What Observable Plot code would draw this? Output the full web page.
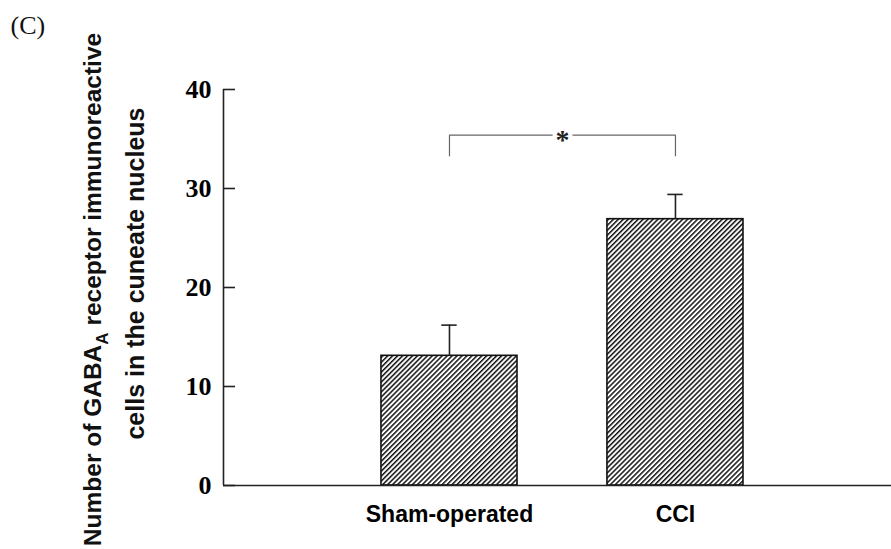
<!DOCTYPE html>
<html>
<head>
<meta charset="utf-8">
<script src="https://cdn.jsdelivr.net/npm/d3@7"></script>
<script src="https://cdn.jsdelivr.net/npm/@observablehq/plot@0.6"></script>
<style>
  html, body { margin: 0; padding: 0; background: #fff; }
  #chart svg { display: block; }
</style>
</head>
<body>
<div id="chart"></div>
<script>
// ---- data ----
const groups = ["Sham-operated", "CCI"];
const means = [13.1, 26.9];
const sems = [3.1, 2.5];
const yTicks = [0, 10, 20, 30, 40];
const bracketTop = 35.4;
const bracketBottom = 33.3;
const sigLabel = "*";
const panelLabel = "(C)";
const yLabelLine1 = "Number of GABA|A| receptor immunoreactive";
const yLabelLine2 = "cells in the cuneate nucleus";

const data = groups.map((g, i) => ({ g, i, mean: means[i], top: means[i] + sems[i] }));
const bracket = [
  { x: 0, y: bracketBottom },
  { x: 0, y: bracketTop },
  { x: 1, y: bracketTop },
  { x: 1, y: bracketBottom }
];
const xDomain = [-1, 1.956];
const half = 0.301;   // bar half width (x units)
const cap = 0.034;    // error cap half width

const sans = "'Liberation Sans', Arial, sans-serif";
const serif = "'Liberation Serif', 'Times New Roman', serif";

const chart = Plot.plot({
  width: 891,
  height: 549,
  marginLeft: 223,
  marginRight: 0,
  marginTop: 89,
  marginBottom: 64,
  style: { background: "#fff", color: "#000", overflow: "visible" },
  x: { domain: xDomain, axis: null },
  y: { domain: [0, 40], axis: null },
  marks: [
    Plot.rectY(data, {
      x1: d => d.i - half, x2: d => d.i + half, y1: 0, y2: "mean",
      fill: "url(#hatch)", stroke: "#111", strokeWidth: 1.6
    }),
    Plot.ruleX(data, { x: "i", y1: "mean", y2: "top", stroke: "#222", strokeWidth: 1.6 }),
    Plot.ruleY(data, { y: "top", x1: d => d.i - cap, x2: d => d.i + cap, stroke: "#222", strokeWidth: 1.6 }),
    Plot.line(bracket, { x: "x", y: "y", stroke: "#666", strokeWidth: 1.2 }),
    Plot.text([sigLabel], {
      x: [0.5], y: [bracketTop], text: d => d, fontSize: 28, fontFamily: serif, fontWeight: "bold",
      fill: "#222", stroke: "white", strokeWidth: 8, dy: 5
    }),
    Plot.ruleY([0], { stroke: "#222", strokeWidth: 1.6 }),
    Plot.ruleX([xDomain[0]], { y1: 0, y2: 40, stroke: "#222", strokeWidth: 1.6 }),
    Plot.tickY(yTicks, { y: d => d, insetRight: 668 - 12, stroke: "#222", strokeWidth: 1.6 }),
    Plot.axisY({
      ticks: yTicks, tickSize: 0, tickPadding: 12,
      fontSize: 26, fontFamily: serif, fontWeight: "bold",
      label: null, tickFormat: d => d
    }),
    Plot.axisX({
      ticks: [0, 1], tickSize: 0, tickPadding: 20, tickFormat: i => groups[i],
      fontSize: 23, fontFamily: sans, fontWeight: "bold", label: null
    }),
    Plot.text([yLabelLine1], {
      frameAnchor: "left", dx: -130, dy: 2, rotate: -90, text: d => d, textAnchor: "middle",
      fontSize: 24.5, fontFamily: sans, fontWeight: "bold", fill: "#111"
    }),
    Plot.text([yLabelLine2], {
      frameAnchor: "left", dx: -88, dy: -14, rotate: -90, text: d => d, textAnchor: "middle",
      fontSize: 25, fontFamily: sans, fontWeight: "bold", fill: "#111"
    }),
    Plot.text([panelLabel], {
      frameAnchor: "top-left", dx: -213, dy: -56, text: d => d, textAnchor: "start",
      lineAnchor: "bottom", fontSize: 26, fontFamily: serif, fill: "#111"
    })
  ]
});

// hatch pattern definition
const ns = "http://www.w3.org/2000/svg";
const defs = document.createElementNS(ns, "defs");
defs.innerHTML = `<pattern id="hatch" patternUnits="userSpaceOnUse" width="3.5" height="10" patternTransform="rotate(45)">
  <rect width="3.5" height="10" fill="white"/>
  <line x1="0.75" y1="0" x2="0.75" y2="10" stroke="#111" stroke-width="1.5"/>
</pattern>`;
chart.insertBefore(defs, chart.firstChild);

// subscript in the y label
chart.querySelectorAll("text").forEach(t => {
  if (t.textContent.includes("|A|")) {
    const [a, b, c] = t.textContent.split("|");
    t.textContent = "";
    const s1 = document.createElementNS(ns, "tspan"); s1.textContent = a;
    const s2 = document.createElementNS(ns, "tspan"); s2.textContent = b;
    s2.setAttribute("dy", "7"); s2.setAttribute("font-size", "17");
    const s3 = document.createElementNS(ns, "tspan"); s3.textContent = c;
    s3.setAttribute("dy", "-7");
    t.append(s1, s2, s3);
  }
});

document.getElementById("chart").append(chart);
</script>
</body>
</html>
